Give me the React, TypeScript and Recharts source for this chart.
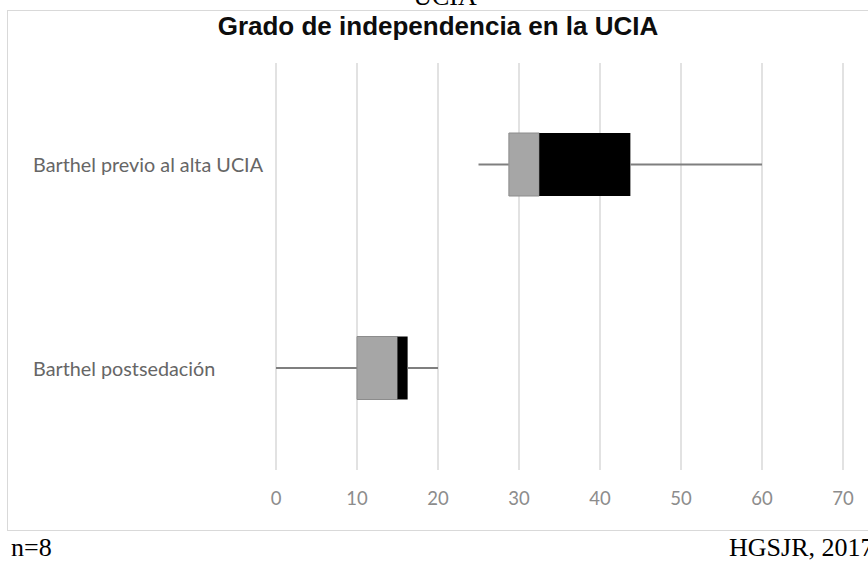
import { BarChart, Bar, XAxis, YAxis, CartesianGrid } from 'recharts';

// Box-plot summary per measurement (Barthel index)
const categories = ['Barthel previo al alta UCIA', 'Barthel postsedación'];
const minValues = [25, 0];
const q1Values = [28.75, 10];
const medianValues = [32.5, 15];
const q3Values = [43.75, 16.25];
const maxValues = [60, 20];
const xTicks = [0, 10, 20, 30, 40, 50, 60, 70];

// stacked segments: hidden base, lower whisker, Q1-median, median-Q3, upper whisker
const data = categories.map((name, i) => ({
  name,
  base: minValues[i],
  lowWhisker: q1Values[i] - minValues[i],
  lowerBox: medianValues[i] - q1Values[i],
  upperBox: q3Values[i] - medianValues[i],
  highWhisker: maxValues[i] - q3Values[i],
}));

const Whisker = (props: any) => {
  const { x, y, width, height } = props;
  const cy = y + height / 2;
  return <line x1={x} x2={x + width} y1={cy} y2={cy} stroke="#7f7f7f" strokeWidth={2} />;
};

const CategoryTick = (props: any) => {
  const { y, payload } = props;
  return (
    <text x={33} y={y} dy="0.38em" textAnchor="start" fill="#666666" fontSize={19.8} fontFamily="Lato">
      {payload.value}
    </text>
  );
};

export default function App() {
  return (
    <div
      style={{
        position: 'fixed',
        left: 0,
        top: 0,
        width: 868,
        height: 561,
        overflow: 'hidden',
        background: '#fff',
      }}
    >
      <svg width={868} height={561} style={{ position: 'absolute', left: 0, top: 0 }}>
        <text x={445} y={5} textAnchor="middle" fontFamily="Liberation Serif" fontSize={26} fill="#000">
          UCIA
        </text>
        <rect x={7.5} y={10.5} width={900} height={520} fill="none" stroke="#d9d9d9" />
        <text
          x={438}
          y={35}
          textAnchor="middle"
          fontFamily="Liberation Sans"
          fontWeight="bold"
          fontSize={26}
          fill="#0d0d0d"
        >
          Grado de independencia en la UCIA
        </text>
        <text x={11} y={556} fontFamily="Liberation Serif" fontSize={26} fill="#000">
          n=8
        </text>
        <text x={729} y={556} fontFamily="Liberation Serif" fontSize={26} fill="#000">
          HGSJR, 2017
        </text>
      </svg>
      <div style={{ position: 'absolute', left: 0, top: 0 }}>
        <BarChart
          width={868}
          height={561}
          data={data}
          layout="vertical"
          margin={{ top: 63, right: 25, left: 0, bottom: 41 }}
          barSize={63}
        >
          <CartesianGrid horizontal={false} stroke="#d9d9d9" strokeWidth={1.5} />
          <XAxis
            type="number"
            domain={[0, 70]}
            ticks={xTicks}
            axisLine={false}
            tickLine={false}
            tickSize={0}
            tickMargin={22}
            height={50}
            tick={{ fill: '#8c8c8c', fontSize: 18.5, fontFamily: 'Lato' }}
          />
          <YAxis
            type="category"
            dataKey="name"
            width={276}
            axisLine={false}
            tickLine={false}
            tick={<CategoryTick />}
          />
          <Bar dataKey="base" stackId="box" fill="transparent" isAnimationActive={false} />
          <Bar dataKey="lowWhisker" stackId="box" shape={<Whisker />} isAnimationActive={false} />
          <Bar dataKey="lowerBox" stackId="box" fill="#a6a6a6" stroke="#8c8c8c" strokeWidth={1} isAnimationActive={false} />
          <Bar dataKey="upperBox" stackId="box" fill="#000000" isAnimationActive={false} />
          <Bar dataKey="highWhisker" stackId="box" shape={<Whisker />} isAnimationActive={false} />
        </BarChart>
      </div>
    </div>
  );
}
